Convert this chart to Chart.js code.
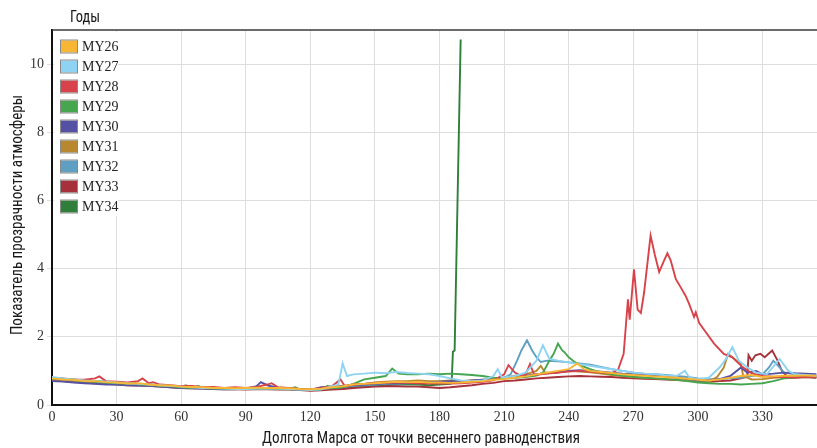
<!DOCTYPE html>
<html><head><meta charset="utf-8">
<script src="https://cdn.jsdelivr.net/npm/chart.js@4"></script>
<style>html,body{margin:0;padding:0;background:#fff}</style>
</head><body>
<canvas id="c" width="817" height="448"></canvas>
<script>
const years = ['MY26','MY27','MY28','MY29','MY30','MY31','MY32','MY33','MY34'];
const xTicks = [0,30,60,90,120,150,180,210,240,270,300,330];
const yTicks = [0,2,4,6,8,10];
const xTitle = 'Долгота Марса от точки весеннего равноденствия';
const yTitle = 'Показатель прозрачности атмосферы';
const legendTitle = 'Годы';

const my26 = [[0,0.78],[5,0.75],[10,0.74],[15,0.7],[20,0.7],[25,0.67],[30,0.66],[35,0.63],[40,0.64],[45,0.6],[50,0.58],[55,0.57],[60,0.54],[65,0.53],[70,0.52],[75,0.5],[80,0.5],[85,0.49],[90,0.5],[95,0.51],[100,0.5],[105,0.5],[110,0.49],[115,0.47],[120,0.46],[125,0.48],[130,0.52],[135,0.55],[140,0.6],[145,0.62],[150,0.64],[155,0.66],[160,0.68],[165,0.67],[170,0.68],[175,0.66],[180,0.66],[185,0.65],[190,0.66],[195,0.68],[200,0.7],[205,0.74],[210,0.76],[215,0.8],[220,0.84],[225,0.9],[230,0.95],[235,1.0],[240,1.05],[244,1.22],[247,1.05],[250,1.0],[255,0.97],[260,0.94],[265,0.9],[270,0.88],[275,0.86],[280,0.84],[285,0.82],[290,0.8],[295,0.77],[300,0.74],[305,0.72],[310,0.75],[315,0.8],[320,0.85],[325,0.88],[330,0.82],[335,0.84],[340,0.86],[345,0.86],[350,0.87],[355,0.86]];
const my27 = [[0,0.82],[5,0.78],[10,0.75],[15,0.72],[20,0.7],[25,0.68],[30,0.66],[35,0.64],[40,0.62],[45,0.6],[50,0.58],[55,0.56],[60,0.54],[65,0.52],[70,0.5],[75,0.5],[80,0.48],[85,0.47],[90,0.47],[95,0.48],[100,0.49],[105,0.48],[110,0.47],[115,0.45],[120,0.44],[125,0.46],[130,0.55],[133,0.6],[135,1.22],[137,0.85],[140,0.9],[145,0.92],[150,0.95],[155,0.93],[160,0.97],[165,0.94],[170,0.92],[175,0.9],[180,0.85],[185,0.78],[190,0.72],[195,0.7],[200,0.72],[205,0.85],[207,1.05],[209,0.8],[215,0.85],[220,0.95],[225,1.3],[228,1.75],[231,1.35],[235,1.3],[240,1.25],[245,1.2],[250,1.15],[255,1.1],[260,1.05],[265,1.0],[270,0.95],[275,0.92],[280,0.9],[285,0.87],[290,0.85],[294,1.0],[296,0.8],[300,0.76],[305,0.8],[310,1.1],[313,1.35],[316,1.7],[319,1.3],[323,1.1],[327,0.95],[332,0.9],[338,1.35],[342,1.0],[345,0.9],[350,0.88],[355,0.86]];
const my28 = [[0,0.8],[5,0.78],[10,0.75],[15,0.74],[20,0.78],[22,0.84],[25,0.7],[30,0.68],[35,0.66],[40,0.7],[42,0.78],[45,0.64],[47,0.67],[50,0.6],[55,0.58],[60,0.55],[65,0.56],[70,0.52],[75,0.53],[80,0.5],[85,0.52],[90,0.5],[95,0.53],[100,0.6],[102,0.64],[105,0.52],[110,0.5],[115,0.47],[120,0.46],[125,0.5],[130,0.55],[134,0.75],[136,0.55],[140,0.6],[145,0.62],[150,0.65],[155,0.66],[160,0.66],[165,0.65],[170,0.64],[175,0.63],[180,0.64],[185,0.63],[190,0.64],[195,0.66],[200,0.68],[205,0.72],[210,0.9],[212,1.17],[215,0.95],[218,0.85],[220,0.9],[222,1.2],[224,0.88],[230,0.92],[235,0.95],[240,0.98],[245,1.0],[250,0.98],[255,0.95],[260,0.93],[263,1.05],[265.5,1.5],[267.5,3.1],[268.3,2.5],[270.3,3.98],[272,2.8],[273.5,2.7],[275,3.3],[278,4.97],[280,4.4],[282,3.9],[284,4.2],[285.8,4.45],[287.3,4.25],[289.7,3.7],[292,3.45],[294.3,3.2],[296,2.95],[298.2,2.58],[299,2.72],[300.6,2.4],[303.6,2.14],[307.5,1.8],[312,1.5],[316,1.4],[320.6,1.12],[325,0.93],[330,0.85],[335,0.83],[340,0.82],[345,0.8],[350,0.82],[355,0.8]];
const my29 = [[0,0.78],[5,0.76],[10,0.73],[15,0.7],[20,0.69],[25,0.66],[30,0.64],[35,0.63],[38,0.67],[40,0.6],[45,0.6],[50,0.56],[55,0.55],[60,0.52],[65,0.5],[68,0.56],[70,0.5],[75,0.48],[80,0.48],[85,0.47],[90,0.47],[95,0.49],[100,0.48],[105,0.48],[110,0.47],[113,0.52],[115,0.46],[120,0.44],[125,0.45],[128,0.56],[130,0.5],[135,0.52],[140,0.62],[145,0.75],[150,0.8],[155,0.85],[158,1.07],[161,0.92],[165,0.9],[170,0.9],[175,0.92],[180,0.9],[185,0.92],[190,0.9],[195,0.88],[200,0.85],[205,0.8],[210,0.78],[215,0.8],[220,0.82],[225,0.86],[228,0.95],[231,1.3],[233,1.5],[235,1.8],[237,1.6],[238,1.55],[240,1.4],[243,1.25],[246,1.15],[250,1.05],[255,0.95],[260,0.9],[265,0.86],[270,0.83],[275,0.8],[280,0.78],[285,0.76],[290,0.74],[295,0.7],[300,0.66],[305,0.64],[310,0.62],[315,0.62],[320,0.6],[325,0.62],[330,0.64],[335,0.7],[340,0.78],[345,0.8],[350,0.82],[355,0.8]];
const my30 = [[0,0.7],[5,0.69],[10,0.66],[15,0.64],[20,0.62],[25,0.6],[30,0.6],[35,0.58],[40,0.57],[45,0.56],[50,0.54],[55,0.52],[60,0.5],[65,0.49],[70,0.48],[75,0.47],[80,0.46],[85,0.46],[90,0.48],[95,0.55],[97,0.67],[100,0.58],[105,0.5],[110,0.47],[115,0.45],[120,0.44],[125,0.52],[130,0.54],[135,0.56],[140,0.58],[145,0.6],[150,0.62],[155,0.64],[160,0.64],[165,0.66],[170,0.68],[175,0.66],[180,0.68],[185,0.7],[190,0.7],[195,0.72],[200,0.74],[205,0.76],[210,0.8],[215,0.83],[220,0.86],[225,0.9],[230,0.93],[235,0.96],[240,1.0],[245,1.02],[250,1.0],[255,0.98],[260,0.95],[265,0.92],[270,0.9],[275,0.88],[280,0.86],[285,0.84],[290,0.8],[295,0.76],[300,0.72],[305,0.72],[310,0.76],[315,0.85],[320,1.1],[323,0.95],[327,1.0],[330,0.9],[335,0.92],[340,0.95],[345,0.93],[350,0.92],[355,0.9]];
const my31 = [[0,0.74],[5,0.72],[10,0.7],[15,0.68],[20,0.67],[25,0.65],[30,0.63],[35,0.62],[40,0.6],[45,0.58],[50,0.56],[55,0.54],[60,0.52],[62,0.58],[65,0.52],[70,0.5],[75,0.49],[80,0.48],[85,0.48],[90,0.47],[95,0.48],[100,0.48],[105,0.47],[110,0.46],[115,0.45],[120,0.44],[125,0.47],[130,0.52],[135,0.55],[140,0.6],[145,0.62],[150,0.66],[155,0.68],[160,0.7],[165,0.7],[170,0.72],[175,0.7],[180,0.7],[185,0.72],[190,0.7],[195,0.72],[200,0.74],[205,0.78],[210,0.8],[215,0.86],[220,0.9],[225,1.0],[227,1.15],[229,0.95],[235,0.95],[240,1.0],[245,0.98],[250,0.96],[255,0.92],[260,0.88],[265,0.85],[270,0.82],[275,0.8],[280,0.78],[285,0.76],[290,0.75],[295,0.72],[300,0.7],[305,0.68],[309,0.83],[312,1.1],[314,1.5],[316,1.4],[318,1.3],[320,1.2],[321,0.85],[325,0.75],[330,0.76],[335,0.8],[340,0.82],[345,0.84],[350,0.85],[355,0.84]];
const my32 = [[0,0.76],[5,0.73],[10,0.71],[15,0.69],[20,0.67],[25,0.65],[30,0.63],[35,0.61],[40,0.6],[45,0.58],[50,0.56],[55,0.54],[60,0.52],[65,0.5],[70,0.49],[75,0.48],[80,0.48],[85,0.47],[90,0.47],[95,0.48],[100,0.48],[105,0.47],[110,0.46],[115,0.45],[120,0.44],[125,0.46],[130,0.5],[135,0.53],[140,0.56],[145,0.58],[150,0.6],[155,0.62],[160,0.62],[165,0.64],[170,0.64],[175,0.65],[180,0.66],[185,0.66],[190,0.68],[195,0.7],[200,0.72],[205,0.76],[210,0.8],[213,0.9],[216,1.3],[218,1.6],[220.6,1.9],[223,1.6],[225,1.4],[227,1.26],[230,1.3],[235,1.28],[240,1.25],[245,1.22],[250,1.18],[255,1.12],[260,1.05],[265,1.0],[270,0.95],[275,0.92],[280,0.9],[285,0.88],[290,0.85],[295,0.82],[300,0.78],[305,0.76],[310,0.76],[315,0.78],[320,0.8],[325,0.85],[330,0.9],[333,1.1],[335,1.3],[338,1.1],[340,0.95],[345,0.9],[350,0.88],[355,0.87]];
const my33 = [[0,0.72],[5,0.7],[10,0.68],[15,0.66],[20,0.64],[25,0.62],[30,0.6],[35,0.58],[40,0.57],[45,0.56],[50,0.54],[55,0.52],[60,0.5],[65,0.49],[70,0.48],[75,0.47],[80,0.46],[85,0.46],[90,0.45],[95,0.46],[100,0.46],[105,0.45],[110,0.45],[115,0.44],[120,0.42],[125,0.43],[130,0.45],[135,0.47],[140,0.5],[145,0.52],[150,0.54],[155,0.55],[160,0.55],[165,0.54],[170,0.54],[175,0.52],[180,0.5],[185,0.52],[190,0.55],[195,0.58],[200,0.62],[205,0.65],[210,0.7],[215,0.72],[220,0.75],[225,0.78],[230,0.8],[235,0.82],[240,0.84],[245,0.85],[250,0.84],[255,0.83],[260,0.82],[265,0.8],[270,0.78],[275,0.77],[280,0.76],[285,0.75],[290,0.73],[295,0.72],[300,0.7],[305,0.68],[310,0.7],[315,0.72],[320,0.78],[322.9,0.83],[323.5,1.46],[325,1.3],[326.7,1.46],[329,1.5],[331,1.4],[334.5,1.6],[337,1.3],[339,1.0],[342,0.8],[345,0.82],[350,0.84],[355,0.82]];
const my34 = [[0,0.8],[5,0.77],[10,0.75],[15,0.72],[20,0.7],[25,0.68],[30,0.65],[35,0.63],[40,0.62],[45,0.6],[50,0.58],[55,0.56],[60,0.54],[65,0.52],[70,0.51],[75,0.5],[80,0.5],[85,0.49],[90,0.49],[95,0.5],[100,0.5],[105,0.49],[110,0.48],[115,0.47],[120,0.45],[125,0.48],[130,0.5],[135,0.48],[140,0.52],[145,0.55],[150,0.57],[155,0.58],[160,0.6],[165,0.6],[170,0.6],[175,0.58],[180,0.6],[185,0.62],[185.6,0.64],[186.2,1.56],[187,1.6],[189.8,10.72]];

const series = [my26,my27,my28,my29,my30,my31,my32,my33,my34];
const colors = ['#F7B633','#8ED4F2','#D8434B','#46A64F','#5450A4','#B9872F','#5E9FC2','#A7313B','#2F7E39'];

const narrow = '"Liberation Sans Narrow","Roboto Condensed","Arial Narrow","Liberation Sans",sans-serif';

function fitText(ctx, text, x, y, targetW, font, rot) {
  ctx.save();
  ctx.font = font;
  const w = ctx.measureText(text).width;
  ctx.translate(x, y);
  if (rot) ctx.rotate(rot);
  ctx.scale(targetW / w, 1);
  ctx.textAlign = 'center';
  ctx.textBaseline = 'middle';
  ctx.fillStyle = '#1a1a1a';
  ctx.fillText(text, 0, 0);
  ctx.restore();
}

const decor = {
  id: 'decor',
  afterDatasetsDraw(chart) {
    const ctx = chart.ctx, a = chart.chartArea;
    ctx.save();
    ctx.fillStyle = '#fff';
    ctx.fillRect(a.left + 2, a.top + 2, 64, 184);
    ctx.strokeStyle = '#3a3a3a';
    ctx.lineWidth = 1.5;
    ctx.beginPath(); ctx.moveTo(a.left, a.top); ctx.lineTo(a.right, a.top); ctx.stroke();
    ctx.font = '14px "Liberation Serif","DejaVu Serif",serif';
    ctx.textBaseline = 'middle';
    ctx.textAlign = 'left';
    years.forEach((y, i) => {
      const top = 40.5 + i * 20;
      ctx.fillStyle = colors[i];
      ctx.fillRect(61, top, 16, 12);
      ctx.strokeStyle = '#8a8a8a';
      ctx.lineWidth = 1;
      ctx.strokeRect(60.5, top - 0.5, 17, 13);
      ctx.fillStyle = '#222';
      ctx.fillText(y, 82, top + 6.5);
    });
    ctx.restore();
    fitText(ctx, legendTitle, 85, 18, 30, '16px ' + narrow, 0);
    fitText(ctx, xTitle, 421, 439, 318, '16px ' + narrow, 0);
    fitText(ctx, yTitle, 18, 215, 240, '16px ' + narrow, -Math.PI / 2);
  }
};

new Chart(document.getElementById('c'), {
  type: 'line',
  data: {
    datasets: years.map((name, i) => ({
      label: name,
      data: series[i].map(p => ({ x: p[0], y: p[1] })),
      borderColor: colors[i],
      backgroundColor: colors[i],
      borderWidth: 1.9,
      pointRadius: 0,
      fill: false,
      tension: 0
    }))
  },
  options: {
    responsive: false,
    animation: false,
    layout: { padding: { top: 30, left: 0, right: 0, bottom: 0 } },
    plugins: { legend: { display: false }, tooltip: { enabled: false } },
    scales: {
      x: {
        type: 'linear', min: 0, max: 355.3,
        afterBuildTicks: s => { s.ticks = xTicks.map(v => ({ value: v })); },
        afterFit: s => { s.height = 43; },
        grid: { color: '#dedede', drawTicks: false, lineWidth: 1 },
        border: { color: '#111', width: 2 },
        ticks: { font: { family: '"Liberation Serif","DejaVu Serif",serif', size: 14 }, color: '#333', maxRotation: 0, padding: 4, autoSkip: false }
      },
      y: {
        type: 'linear', min: 0, max: 11,
        afterBuildTicks: s => { s.ticks = yTicks.map(v => ({ value: v })); },
        afterFit: s => { s.width = 52; },
        grid: { color: '#dedede', tickLength: 5, lineWidth: 1 },
        border: { color: '#111', width: 2 },
        ticks: { font: { family: '"Liberation Serif","DejaVu Serif",serif', size: 14 }, color: '#333', padding: 3 }
      }
    }
  },
  plugins: [decor]
});
</script>
</body></html>
